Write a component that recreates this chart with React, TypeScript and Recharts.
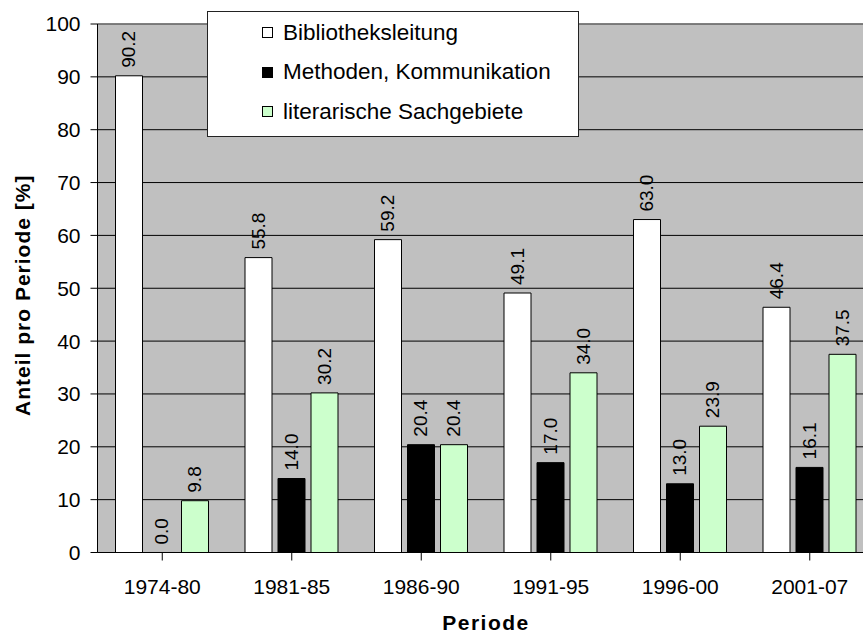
import { BarChart, Bar, XAxis, YAxis, CartesianGrid, Legend, LabelList, ReferenceLine } from 'recharts';

const periods = ['1974-80', '1981-85', '1986-90', '1991-95', '1996-00', '2001-07'];
const leitung = [90.2, 55.8, 59.2, 49.1, 63.0, 46.4];
const methoden = [0.0, 14.0, 20.4, 17.0, 13.0, 16.1];
const literarisch = [9.8, 30.2, 20.4, 34.0, 23.9, 37.5];
const yTicks = [0, 10, 20, 30, 40, 50, 60, 70, 80, 90, 100];

const seriesNames = ['Bibliotheksleitung', 'Methoden, Kommunikation', 'literarische Sachgebiete'];
const seriesColors = ['#FFFFFF', '#000000', '#CCFFCC'];

const data = periods.map((p, i) => ({
  period: p,
  a: leitung[i],
  b: methoden[i],
  c: literarisch[i],
}));

const FONT = '"Liberation Sans", Arial, sans-serif';

// value label above a bar, rotated to read bottom-to-top
function BarValue(props: any) {
  const { x, y, width, value } = props;
  const cx = x + width / 2;
  const cy = y - 8;
  return (
    <text
      x={cx}
      y={cy}
      transform={`rotate(-90, ${cx}, ${cy})`}
      textAnchor="start"
      dominantBaseline="central"
      fontSize={19}
      fontFamily={FONT}
      fill="#000"
    >
      {Number(value).toFixed(1)}
    </text>
  );
}

function LegendBox() {
  return (
    <div
      style={{
        width: 370,
        height: 123,
        background: '#fff',
        border: '1px solid #222',
        boxSizing: 'content-box',
        fontFamily: FONT,
        fontSize: 22.5,
        color: '#000',
        paddingTop: 1,
      }}
    >
      {seriesNames.map((name, i) => (
        <div key={name} style={{ display: 'flex', alignItems: 'center', height: 39.5, paddingLeft: 54 }}>
          <span
            style={{
              display: 'inline-block',
              width: 9,
              height: 9,
              background: seriesColors[i],
              border: '1px solid #000',
              marginRight: 10,
            }}
          />
          <span>{name}</span>
        </div>
      ))}
    </div>
  );
}

function YTitle(props: any) {
  const { viewBox } = props;
  const x = viewBox.x + 22;
  const y = viewBox.y + viewBox.height / 2 + 7;
  return (
    <text
      x={x}
      y={y}
      transform={`rotate(-90, ${x}, ${y})`}
      textAnchor="middle"
      dominantBaseline="central"
      fontSize={21}
      fontWeight="bold"
      letterSpacing={1}
      fontFamily={FONT}
      fill="#000"
    >
      Anteil pro Periode [%]
    </text>
  );
}

function XTitle(props: any) {
  const { viewBox } = props;
  return (
    <text
      x={viewBox.x + viewBox.width / 2}
      y={viewBox.y + 77.5}
      textAnchor="middle"
      fontSize={21}
      fontWeight="bold"
      letterSpacing={1.5}
      fontFamily={FONT}
      fill="#000"
    >
      Periode
    </text>
  );
}

export default function App() {
  return (
    <div style={{ position: 'absolute', left: 0, top: 0, width: 863, height: 633, overflow: 'hidden', background: '#fff' }}>
      <BarChart
        width={880}
        height={633}
        data={data}
        margin={{ top: 24, right: 5.5, left: 0, bottom: 30.5 }}
        barSize={27}
        barGap={6}
      >
        <CartesianGrid vertical={false} stroke="#000" fill="#C0C0C0" fillOpacity={1} />
        <ReferenceLine y={100} stroke="#808080" strokeWidth={1.5} />
        <XAxis
          dataKey="period"
          height={50}
          tickSize={8}
          tickMargin={19}
          axisLine={{ stroke: '#000' }}
          tickLine={{ stroke: '#000' }}
          tick={{ fill: '#000', fontSize: 21, fontFamily: FONT }}
          interval={0}
          label={<XTitle />}
        />
        <YAxis
          width={97.5}
          domain={[0, 100]}
          ticks={yTicks}
          tickSize={7}
          tickMargin={10}
          axisLine={{ stroke: '#000' }}
          tickLine={{ stroke: '#000' }}
          tick={{ fill: '#000', fontSize: 21, fontFamily: FONT }}
          label={<YTitle />}
        />
        <Legend
          layout="vertical"
          align="center"
          verticalAlign="middle"
          content={<LegendBox />}
          wrapperStyle={{ left: 207, top: 11, width: 372, height: 126 }}
        />
        <Bar dataKey="a" name={seriesNames[0]} fill={seriesColors[0]} stroke="#000" strokeWidth={1} minPointSize={0.01} isAnimationActive={false}>
          <LabelList dataKey="a" content={<BarValue />} />
        </Bar>
        <Bar dataKey="b" name={seriesNames[1]} fill={seriesColors[1]} stroke="#000" strokeWidth={1} minPointSize={0.01} isAnimationActive={false}>
          <LabelList dataKey="b" content={<BarValue />} />
        </Bar>
        <Bar dataKey="c" name={seriesNames[2]} fill={seriesColors[2]} stroke="#000" strokeWidth={1} minPointSize={0.01} isAnimationActive={false}>
          <LabelList dataKey="c" content={<BarValue />} />
        </Bar>
      </BarChart>
    </div>
  );
}
